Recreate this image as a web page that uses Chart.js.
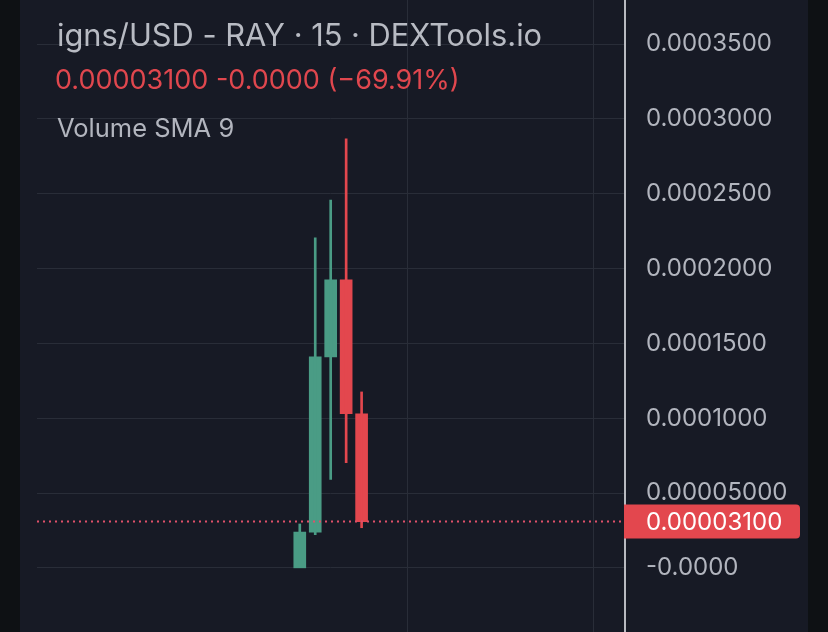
<!DOCTYPE html>
<html>
<head>
<meta charset="utf-8">
<script src="https://cdn.jsdelivr.net/npm/chart.js@4.4.0/dist/chart.umd.min.js"></script>
<style>
html, body { margin: 0; padding: 0; background: #0e1114; }
#wrap { position: absolute; left: 20px; top: 0; width: 788px; height: 632px; background: #171a25; }
</style>
</head>
<body>
<div id="wrap"><canvas id="candles"></canvas></div>
<script>
// 15m candles (USD)
const candleIdx = [0, 1, 2, 3, 4];
const opens  = [0.0000001, 0.0000240, 0.0001410, 0.0001924, 0.0001030];
const highs  = [0.0000294, 0.0002206, 0.0002458, 0.0002866, 0.0001176];
const lows   = [0.0000000, 0.0000222, 0.0000592, 0.0000703, 0.0000269];
const closes = [0.0000240, 0.0001410, 0.0001924, 0.0001030, 0.0000310];

const yTicks = [0, 0.00005, 0.0001, 0.00015, 0.0002, 0.00025, 0.0003, 0.00035];
const yTickLabels = ['-0.0000', '0.00005000', '0.0001000', '0.0001500', '0.0002000', '0.0002500', '0.0003000', '0.0003500'];
const timeGrid = [7, 19];
const lastPrice = 0.000031;
const lastPriceLabel = '0.00003100';

const header = 'igns/USD - RAY · 15 · DEXTools.io';
const priceLine = '0.00003100 -0.0000 (\u221269.91%)';
const indicator = 'Volume SMA 9';

const up = '#4a9c85', down = '#e3474e';
const gridColor = '#292d38';
const textColor = '#b2b5be';
const colors = candleIdx.map(i => closes[i] >= opens[i] ? up : down);

const overlay = {
    id: 'overlay',
    afterDatasetsDraw(chart) {
        const ctx = chart.ctx;
        const area = chart.chartArea;
        const y = chart.scales.y.getPixelForValue(lastPrice);
        ctx.save();
        ctx.strokeStyle = '#e0506a';
        ctx.lineWidth = 2;
        ctx.setLineDash([2, 4]);
        ctx.beginPath();
        ctx.moveTo(area.left, y);
        ctx.lineTo(area.right, y);
        ctx.stroke();
        ctx.restore();
    },
    afterDraw(chart) {
        const ctx = chart.ctx;
        const area = chart.chartArea;
        const y = chart.scales.y.getPixelForValue(lastPrice);
        ctx.save();
        // last price tag
        ctx.fillStyle = '#e3474e';
        ctx.beginPath();
        ctx.roundRect(area.right - 1, y - 17, 176, 34, [0, 4, 4, 0]);
        ctx.fill();
        ctx.fillStyle = '#ffffff';
        ctx.font = '24px Inter';
        ctx.textBaseline = 'middle';
        ctx.fillText(lastPriceLabel, area.right + 21, y + 1);
        // legend text
        ctx.textBaseline = 'alphabetic';
        ctx.fillStyle = '#b8bbc3';
        ctx.font = '30.8px Inter';
        ctx.fillText(header, 37, 46);
        ctx.fillStyle = '#e0474e';
        ctx.font = '27px Inter';
        ctx.fillText(priceLine, 35, 89);
        ctx.fillStyle = textColor;
        ctx.font = '25.5px Inter';
        ctx.fillText(indicator, 37, 137);
        ctx.restore();
    }
};

const chart = new Chart(document.getElementById('candles'), {
    type: 'bar',
    data: {
        datasets: [
            {
                data: candleIdx.map(i => ({x: i, y: [lows[i], highs[i]]})),
                backgroundColor: colors,
                barThickness: 2,
                grouped: false
            },
            {
                data: candleIdx.map(i => ({x: i, y: [opens[i], closes[i]]})),
                backgroundColor: colors,
                barThickness: 12,
                grouped: false
            }
        ]
    },
    options: {
        responsive: true,
        maintainAspectRatio: false,
        animation: false,
        layout: { padding: { left: 17, top: 0, bottom: 0, right: 0 } },
        plugins: { legend: { display: false }, tooltip: { enabled: false } },
        scales: {
            x: {
                type: 'linear',
                offset: false,
                min: -17.0,
                max: 21.04,
                afterBuildTicks: s => { s.ticks = timeGrid.map(v => ({value: v})); },
                afterFit: s => { s.height = 0; s.paddingLeft = 0; s.paddingRight = 0; },
                ticks: { display: false },
                grid: { color: gridColor, drawTicks: false, offset: false },
                border: { display: false }
            },
            y: {
                position: 'right',
                min: -0.00004275,
                max: 0.00037939,
                afterBuildTicks: s => { s.ticks = yTicks.map(v => ({value: v})); },
                afterFit: s => { s.width = 183; s.paddingTop = 0; s.paddingBottom = 0; },
                ticks: {
                    color: textColor,
                    font: { family: 'Inter', size: 24 },
                    padding: 21,
                    callback: (v, i) => yTickLabels[i]
                },
                grid: { color: gridColor, drawTicks: false },
                border: { display: true, color: '#b8bac0', width: 2 }
            }
        }
    },
    plugins: [overlay]
});
</script>
</body>
</html>
